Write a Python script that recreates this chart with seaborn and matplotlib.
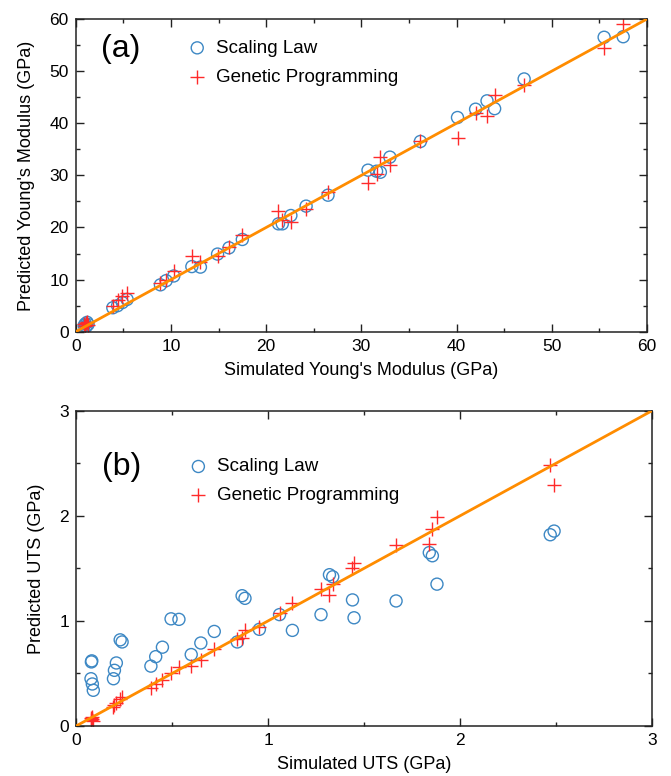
import numpy as np
import pandas as pd
import seaborn as sns
import matplotlib.pyplot as plt
from matplotlib.ticker import MultipleLocator

# Panel (a): Young's modulus (GPa)
ym_sim = [0.9, 1.0, 1.1, 1.2, 1.3, 3.9, 4.4, 4.9, 5.4, 8.9, 9.5, 10.3, 12.2, 13.1, 14.9, 16.1, 17.5,
          21.3, 21.7, 22.6, 24.2, 26.5, 30.7, 31.6, 32.0, 33.0, 36.2, 40.1, 42.0, 43.2, 44.0, 47.1, 55.5, 57.5]
ym_scaling = [1.2, 1.5, 1.0, 1.8, 1.4, 4.6, 5.0, 5.6, 6.2, 9.0, 9.8, 10.7, 12.5, 12.4, 14.9, 16.1, 17.7,
              20.7, 20.7, 22.3, 24.1, 26.2, 31.0, 30.8, 30.6, 33.5, 36.5, 41.1, 42.7, 44.3, 42.8, 48.5, 56.5, 56.6]
ym_gp = [1.4, 1.1, 1.6, 1.9, 1.3, 5.0, 6.1, 6.8, 7.4, 9.3, 10.0, 11.6, 14.5, 13.3, 14.5, 16.3, 18.6,
         23.2, 21.4, 21.0, 23.5, 26.9, 28.6, 30.3, 33.6, 32.0, 36.5, 37.1, 41.9, 41.3, 45.5, 47.3, 54.5, 59.0]

# Panel (b): UTS (GPa)
uts_sim = [0.078, 0.080, 0.082, 0.085, 0.090, 0.195, 0.20, 0.21, 0.23, 0.24, 0.39, 0.415, 0.45, 0.495,
           0.536, 0.60, 0.65, 0.72, 0.84, 0.865, 0.88, 0.955, 1.06, 1.127, 1.276, 1.32, 1.337, 1.44,
           1.448, 1.667, 1.84, 1.856, 1.88, 2.47, 2.49]
uts_scaling = [0.45, 0.61, 0.62, 0.40, 0.34, 0.45, 0.53, 0.60, 0.82, 0.80, 0.57, 0.66, 0.75, 1.02,
               1.015, 0.68, 0.79, 0.90, 0.80, 1.24, 1.215, 0.92, 1.06, 0.91, 1.06, 1.44, 1.42, 1.20,
               1.03, 1.19, 1.65, 1.62, 1.35, 1.82, 1.855]
uts_gp = [0.06, 0.08, 0.09, 0.07, 0.05, 0.18, 0.20, 0.22, 0.26, 0.28, 0.36, 0.40, 0.44, 0.50,
          0.56, 0.57, 0.63, 0.73, 0.83, 0.84, 0.91, 0.94, 1.08, 1.17, 1.30, 1.25, 1.35, 1.50,
          1.55, 1.72, 1.73, 1.87, 1.99, 2.48, 2.29]

blue = '#3d88c4'
red = '#ff2a2a'
orange = '#ff8c00'

plt.rcParams['font.family'] = ['Liberation Sans', 'DejaVu Sans']
plt.rcParams['font.size'] = 12.5

fig = plt.figure(figsize=(6.71, 7.76), dpi=100)
ax_a = fig.add_axes([0.1128, 0.5725, 0.8514, 0.403])
ax_b = fig.add_axes([0.1133, 0.0644, 0.8584, 0.4063])


def draw(ax, sim, scaling, gp, lim, major, minor, xlabel, ylabel, tag, tag_pos, leg_anchor):
    df = pd.DataFrame({'sim': sim, 'scaling': scaling, 'gp': gp})
    sns.scatterplot(data=df, x='sim', y='scaling', ax=ax, marker='o', s=75,
                    facecolor='none', edgecolor=blue, linewidth=1.0, label='Scaling Law', zorder=2)
    sns.scatterplot(data=df, x='sim', y='gp', ax=ax, marker='+', s=110,
                    color=red, linewidth=1.0, label='Genetic Programming', zorder=2)
    sns.lineplot(x=[0, lim], y=[0, lim], ax=ax, color=orange, linewidth=2.0, zorder=3)
    ax.set_xlim(0, lim)
    ax.set_ylim(0, lim)
    ax.xaxis.set_major_locator(MultipleLocator(major))
    ax.yaxis.set_major_locator(MultipleLocator(major))
    ax.xaxis.set_minor_locator(MultipleLocator(minor))
    ax.yaxis.set_minor_locator(MultipleLocator(minor))
    ax.tick_params(which='both', direction='in', top=True, right=True, width=1, color='#222222')
    ax.tick_params(which='major', length=6, labelsize=12.5, pad=5)
    ax.tick_params(which='minor', length=3)
    for s in ax.spines.values():
        s.set_color('#222222')
        s.set_linewidth(1.1)
    ax.set_xlabel(xlabel, fontsize=13, labelpad=6)
    ax.set_ylabel(ylabel, fontsize=13, labelpad=10)
    ax.text(tag_pos[0], tag_pos[1], tag, transform=ax.transAxes, fontsize=23,
            ha='left', va='center')
    ax.legend(loc='upper left', bbox_to_anchor=leg_anchor, frameon=False, fontsize=13.5,
              handletextpad=0.25, labelspacing=0.62, borderaxespad=0, handlelength=1.5)


draw(ax_a, ym_sim, ym_scaling, ym_gp, 60, 10, 5,
     "Simulated Young's Modulus (GPa)", "Predicted Young's Modulus (GPa)",
     '(a)', (0.045, 0.905), (0.175, 0.958))
draw(ax_b, uts_sim, uts_scaling, uts_gp, 3, 1, 0.5,
     'Simulated UTS (GPa)', 'Predicted UTS (GPa)',
     '(b)', (0.045, 0.82), (0.175, 0.873))

fig.savefig('out.png', dpi=100)
